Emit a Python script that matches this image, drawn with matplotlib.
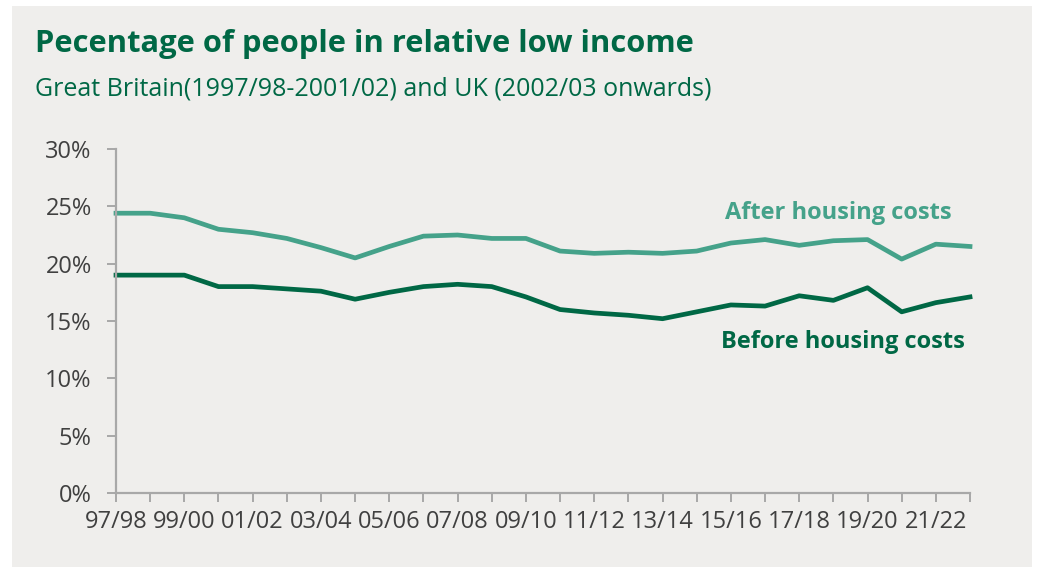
import matplotlib.pyplot as plt
from matplotlib.patches import Rectangle
from matplotlib.ticker import FuncFormatter

# years 1997/98 .. 2022/23
years = ['97/98', '98/99', '99/00', '00/01', '01/02', '02/03', '03/04', '04/05',
         '05/06', '06/07', '07/08', '08/09', '09/10', '10/11', '11/12', '12/13',
         '13/14', '14/15', '15/16', '16/17', '17/18', '18/19', '19/20', '20/21',
         '21/22', '22/23']

after_hc = [24.4, 24.4, 24.0, 23.0, 22.7, 22.2, 21.4, 20.5, 21.5, 22.4, 22.5, 22.2,
            22.2, 21.1, 20.9, 21.0, 20.9, 21.1, 21.8, 22.1, 21.6, 22.0, 22.1, 20.4,
            21.7, 21.5]
before_hc = [19.0, 19.0, 19.0, 18.0, 18.0, 17.8, 17.6, 16.9, 17.5, 18.0, 18.2, 18.0,
             17.1, 16.0, 15.7, 15.5, 15.2, 15.8, 16.4, 16.3, 17.2, 16.8, 17.9, 15.8,
             16.6, 17.1]

light_green = '#45A28A'
dark_green = '#006845'
axis_grey = '#A8A8A8'

W, H = 1037, 567
fig = plt.figure(figsize=(W / 100, H / 100), dpi=100)
fig.patch.set_facecolor('white')
# grey panel behind everything
fig.patches.append(Rectangle((12 / W, 0), (1032 - 12) / W, (567 - 6) / H,
                             transform=fig.transFigure, facecolor='#EFEEEC',
                             edgecolor='none', zorder=-10))

ax = fig.add_axes([116 / W, (H - 493) / H, (970 - 116) / W, (493 - 149) / H])
ax.set_facecolor('none')

x = list(range(len(years)))
ax.plot(x, after_hc, color=light_green, lw=3.4, clip_on=False)
ax.plot(x, before_hc, color=dark_green, lw=3.4, clip_on=False)

ax.set_xlim(0, len(years) - 1)
ax.set_ylim(0, 30)
ax.set_yticks(range(0, 31, 5))
ax.yaxis.set_major_formatter(FuncFormatter(lambda v, p: f'{v:.0f}%'))
ax.set_xticks(x)
ax.set_xticklabels([y if i % 2 == 0 else '' for i, y in enumerate(years)])

for s in ['top', 'right']:
    ax.spines[s].set_visible(False)
for s in ['left', 'bottom']:
    ax.spines[s].set_color(axis_grey)
    ax.spines[s].set_linewidth(1.6)
ax.tick_params(axis='both', colors=axis_grey, width=1.4, length=6.5,
               labelcolor='#404040', labelsize=17)
ax.tick_params(axis='y', pad=11)
ax.tick_params(axis='x', pad=6)
for lab in ax.get_xticklabels() + ax.get_yticklabels():
    lab.set_family('Open Sans')

fig.text(35 / W, 1 - 44 / H, 'Pecentage of people in relative low income',
         color=dark_green, fontsize=22.2, fontweight='bold', family='Open Sans',
         va='center', ha='left')
fig.text(35 / W, 1 - 89 / H, 'Great Britain(1997/98-2001/02) and UK (2002/03 onwards)',
         color=dark_green, fontsize=18, family='Open Sans', va='center', ha='left')

fig.text(952 / W, 1 - 213 / H, 'After housing costs', color=light_green, fontsize=17,
         fontweight='bold', family='Open Sans', ha='right', va='center')
fig.text(965 / W, 1 - 342 / H, 'Before housing costs', color=dark_green, fontsize=17,
         fontweight='bold', family='Open Sans', ha='right', va='center')

fig.savefig('out.png', dpi=100, facecolor=fig.get_facecolor())
